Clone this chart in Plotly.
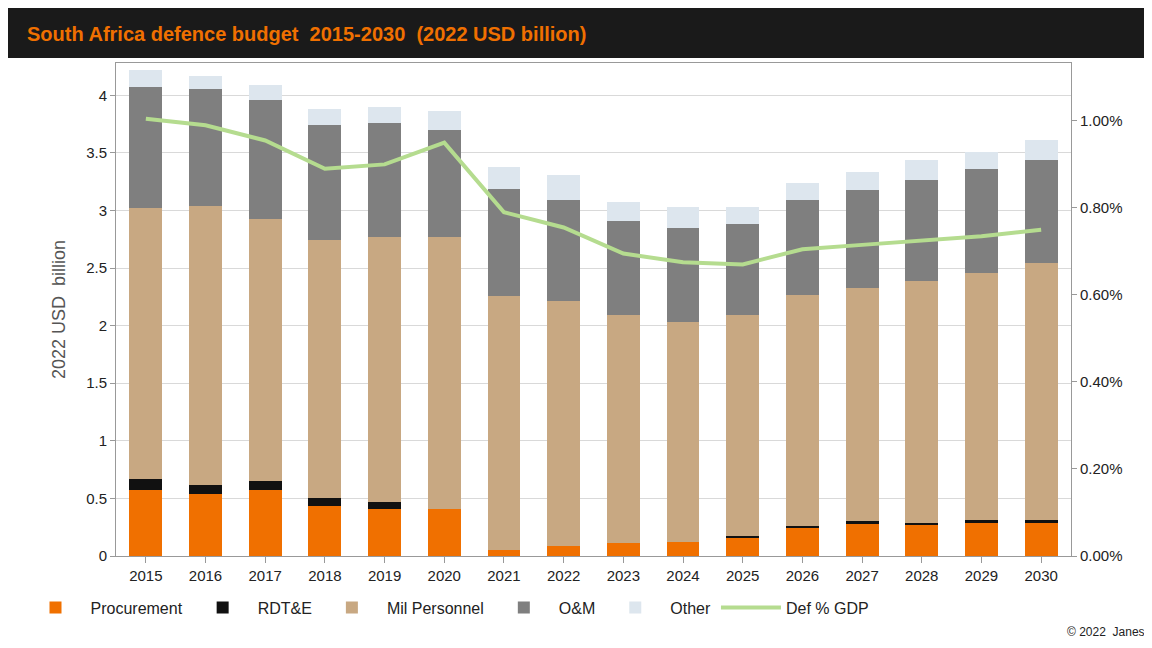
import plotly.graph_objects as go

years = [str(y) for y in range(2015, 2031)]
# stacked tops (USD bn), converted to segments below
procurement = [0.57, 0.54, 0.57, 0.43, 0.41, 0.41, 0.05, 0.09, 0.11, 0.12, 0.16, 0.24, 0.28, 0.27, 0.29, 0.29]
rdte_top = [0.67, 0.62, 0.65, 0.50, 0.47, 0.41, 0.05, 0.09, 0.11, 0.12, 0.17, 0.26, 0.30, 0.29, 0.31, 0.31]
milpers_top = [3.02, 3.04, 2.93, 2.74, 2.77, 2.77, 2.26, 2.21, 2.09, 2.03, 2.09, 2.27, 2.33, 2.39, 2.46, 2.54]
om_top = [4.07, 4.05, 3.96, 3.74, 3.76, 3.70, 3.19, 3.09, 2.91, 2.85, 2.88, 3.09, 3.18, 3.26, 3.36, 3.44]
other_top = [4.22, 4.17, 4.09, 3.88, 3.90, 3.86, 3.38, 3.31, 3.07, 3.03, 3.03, 3.24, 3.33, 3.44, 3.51, 3.61]
gdp_pct = [1.005, 0.99, 0.955, 0.89, 0.90, 0.95, 0.79, 0.755, 0.695, 0.675, 0.67, 0.705, 0.715, 0.725, 0.735, 0.75]

def diff(a, b):
    return [round(x - y, 3) for x, y in zip(a, b)]

series = [
    ("Procurement", procurement, "#f07000"),
    ("RDT&E", diff(rdte_top, procurement), "#111111"),
    ("Mil Personnel", diff(milpers_top, rdte_top), "#c8a882"),
    ("O&M", diff(om_top, milpers_top), "#7f7f7f"),
    ("Other", diff(other_top, om_top), "#dde6ee"),
]

fig = go.Figure()
for name, vals, col in series:
    fig.add_trace(go.Bar(x=years, y=vals, name=name, marker_color=col,
                         marker_line_width=0, width=0.55))
fig.add_trace(go.Scatter(x=years, y=[v / 100 for v in gdp_pct], name="Def % GDP",
                         yaxis="y2", mode="lines",
                         line=dict(color="#b5dc8f", width=4)))

fig.update_layout(
    barmode="stack",
    width=1152, height=648,
    paper_bgcolor="white", plot_bgcolor="white",
    font=dict(family="Liberation Sans, Arial", size=15, color="#222"),
    margin=dict(l=108, r=89, t=55, b=100, pad=0),
    xaxis=dict(showline=True, linecolor="#999", mirror=True, ticks="outside",
               tickcolor="#999", ticklen=6, showgrid=False),
    yaxis=dict(title=dict(text="2022 USD  billion", font=dict(size=18, color="#555")),
               range=[0, 4.28], dtick=0.5, showgrid=True, gridcolor="#d9d9d9",
               showline=True, linecolor="#999", ticks="outside", tickcolor="#999",
               zeroline=False),
    yaxis2=dict(overlaying="y", side="right", range=[0, 0.01133], dtick=0.002,
                tickformat=".2%", showgrid=False, showline=True, linecolor="#999",
                ticks="outside", tickcolor="#999", zeroline=False),
    legend=dict(orientation="h", x=-0.1, y=-0.07, xanchor="left", yanchor="top",
                font=dict(size=16), traceorder="normal", itemwidth=60,
                tracegroupgap=0),
    bargap=0.45,
)

fig.add_shape(type="rect", xref="paper", yref="paper", x0=-0.12, x1=1.1, y0=1.01, y1=1.12,
              fillcolor="#1a1a1a", line_width=0, layer="below")
fig.add_annotation(text="<b>South Africa defence budget  2015-2030  (2022 USD billion)</b>",
                   xref="paper", yref="paper", x=-0.095, y=1.058, xanchor="left",
                   yanchor="middle", showarrow=False,
                   font=dict(size=20, color="#f07000"))
fig.add_annotation(text="© 2022  Janes", xref="paper", yref="paper", x=1.08, y=-0.135,
                   xanchor="right", yanchor="top", showarrow=False,
                   font=dict(size=12, color="#222"))

fig.write_html("out.html")
